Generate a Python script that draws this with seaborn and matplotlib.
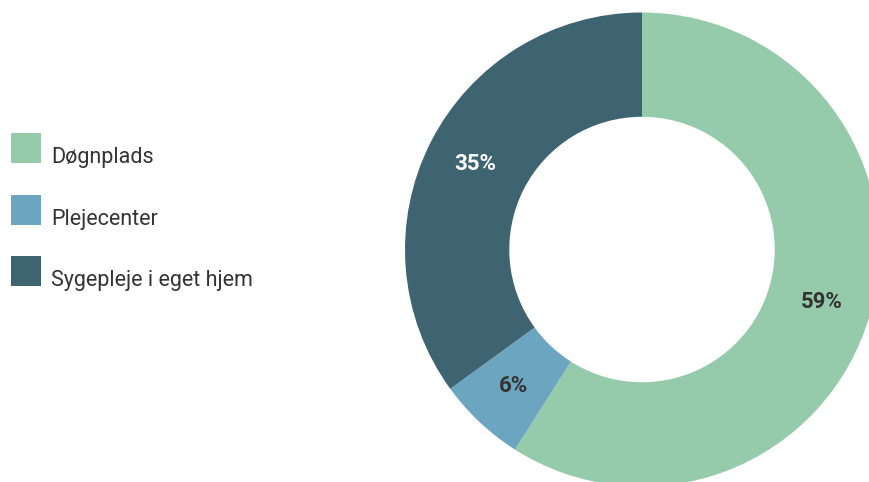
import matplotlib
matplotlib.use("Agg")
import matplotlib.pyplot as plt
import seaborn as sns
from matplotlib.patches import Rectangle

categories = ["Døgnplads", "Plejecenter", "Sygepleje i eget hjem"]
values = [59, 6, 35]
colors = ["#95cbab", "#6ca5bf", "#3e6371"]
label_colors = ["#333333", "#333333", "#ffffff"]

sns.set_theme(style="white")
plt.rcParams['font.family'] = ['Roboto', 'DejaVu Sans']

W, H = 869, 482
fig = plt.figure(figsize=(W / 100, H / 100), dpi=100)
cx, cy, R = 642, 249.5, 237
ax = fig.add_axes([(cx - R) / W, (H - cy - R) / H, 2 * R / W, 2 * R / H])

wedges, texts, autotexts = ax.pie(
    values, colors=colors, startangle=90, counterclock=False, radius=1,
    autopct=lambda p: f"{p:.0f}%", pctdistance=0.79,
    wedgeprops=dict(width=0.44, edgecolor="none", linewidth=0),
    textprops=dict(fontsize=16, fontweight="bold"),
)
for t, c in zip(autotexts, label_colors):
    t.set_color(c)
ax.set_xlim(-1, 1)
ax.set_ylim(-1, 1)
ax.axis("off")

# legend: square swatches with labels aligned to their bottom edge
x0, size, gap = 11, 30, 10
tops = [133, 195, 256]
for cat, col, top in zip(categories, colors, tops):
    fig.patches.append(Rectangle(((x0) / W, (H - top - size) / H), size / W, size / H,
                                 transform=fig.transFigure, facecolor=col,
                                 edgecolor="none", figure=fig))
    fig.text((x0 + size + gap) / W, (H - top - size) / H, cat, fontsize=15.5,
             color="#333333", ha="left", va="baseline")

fig.savefig("out.png", dpi=100)
